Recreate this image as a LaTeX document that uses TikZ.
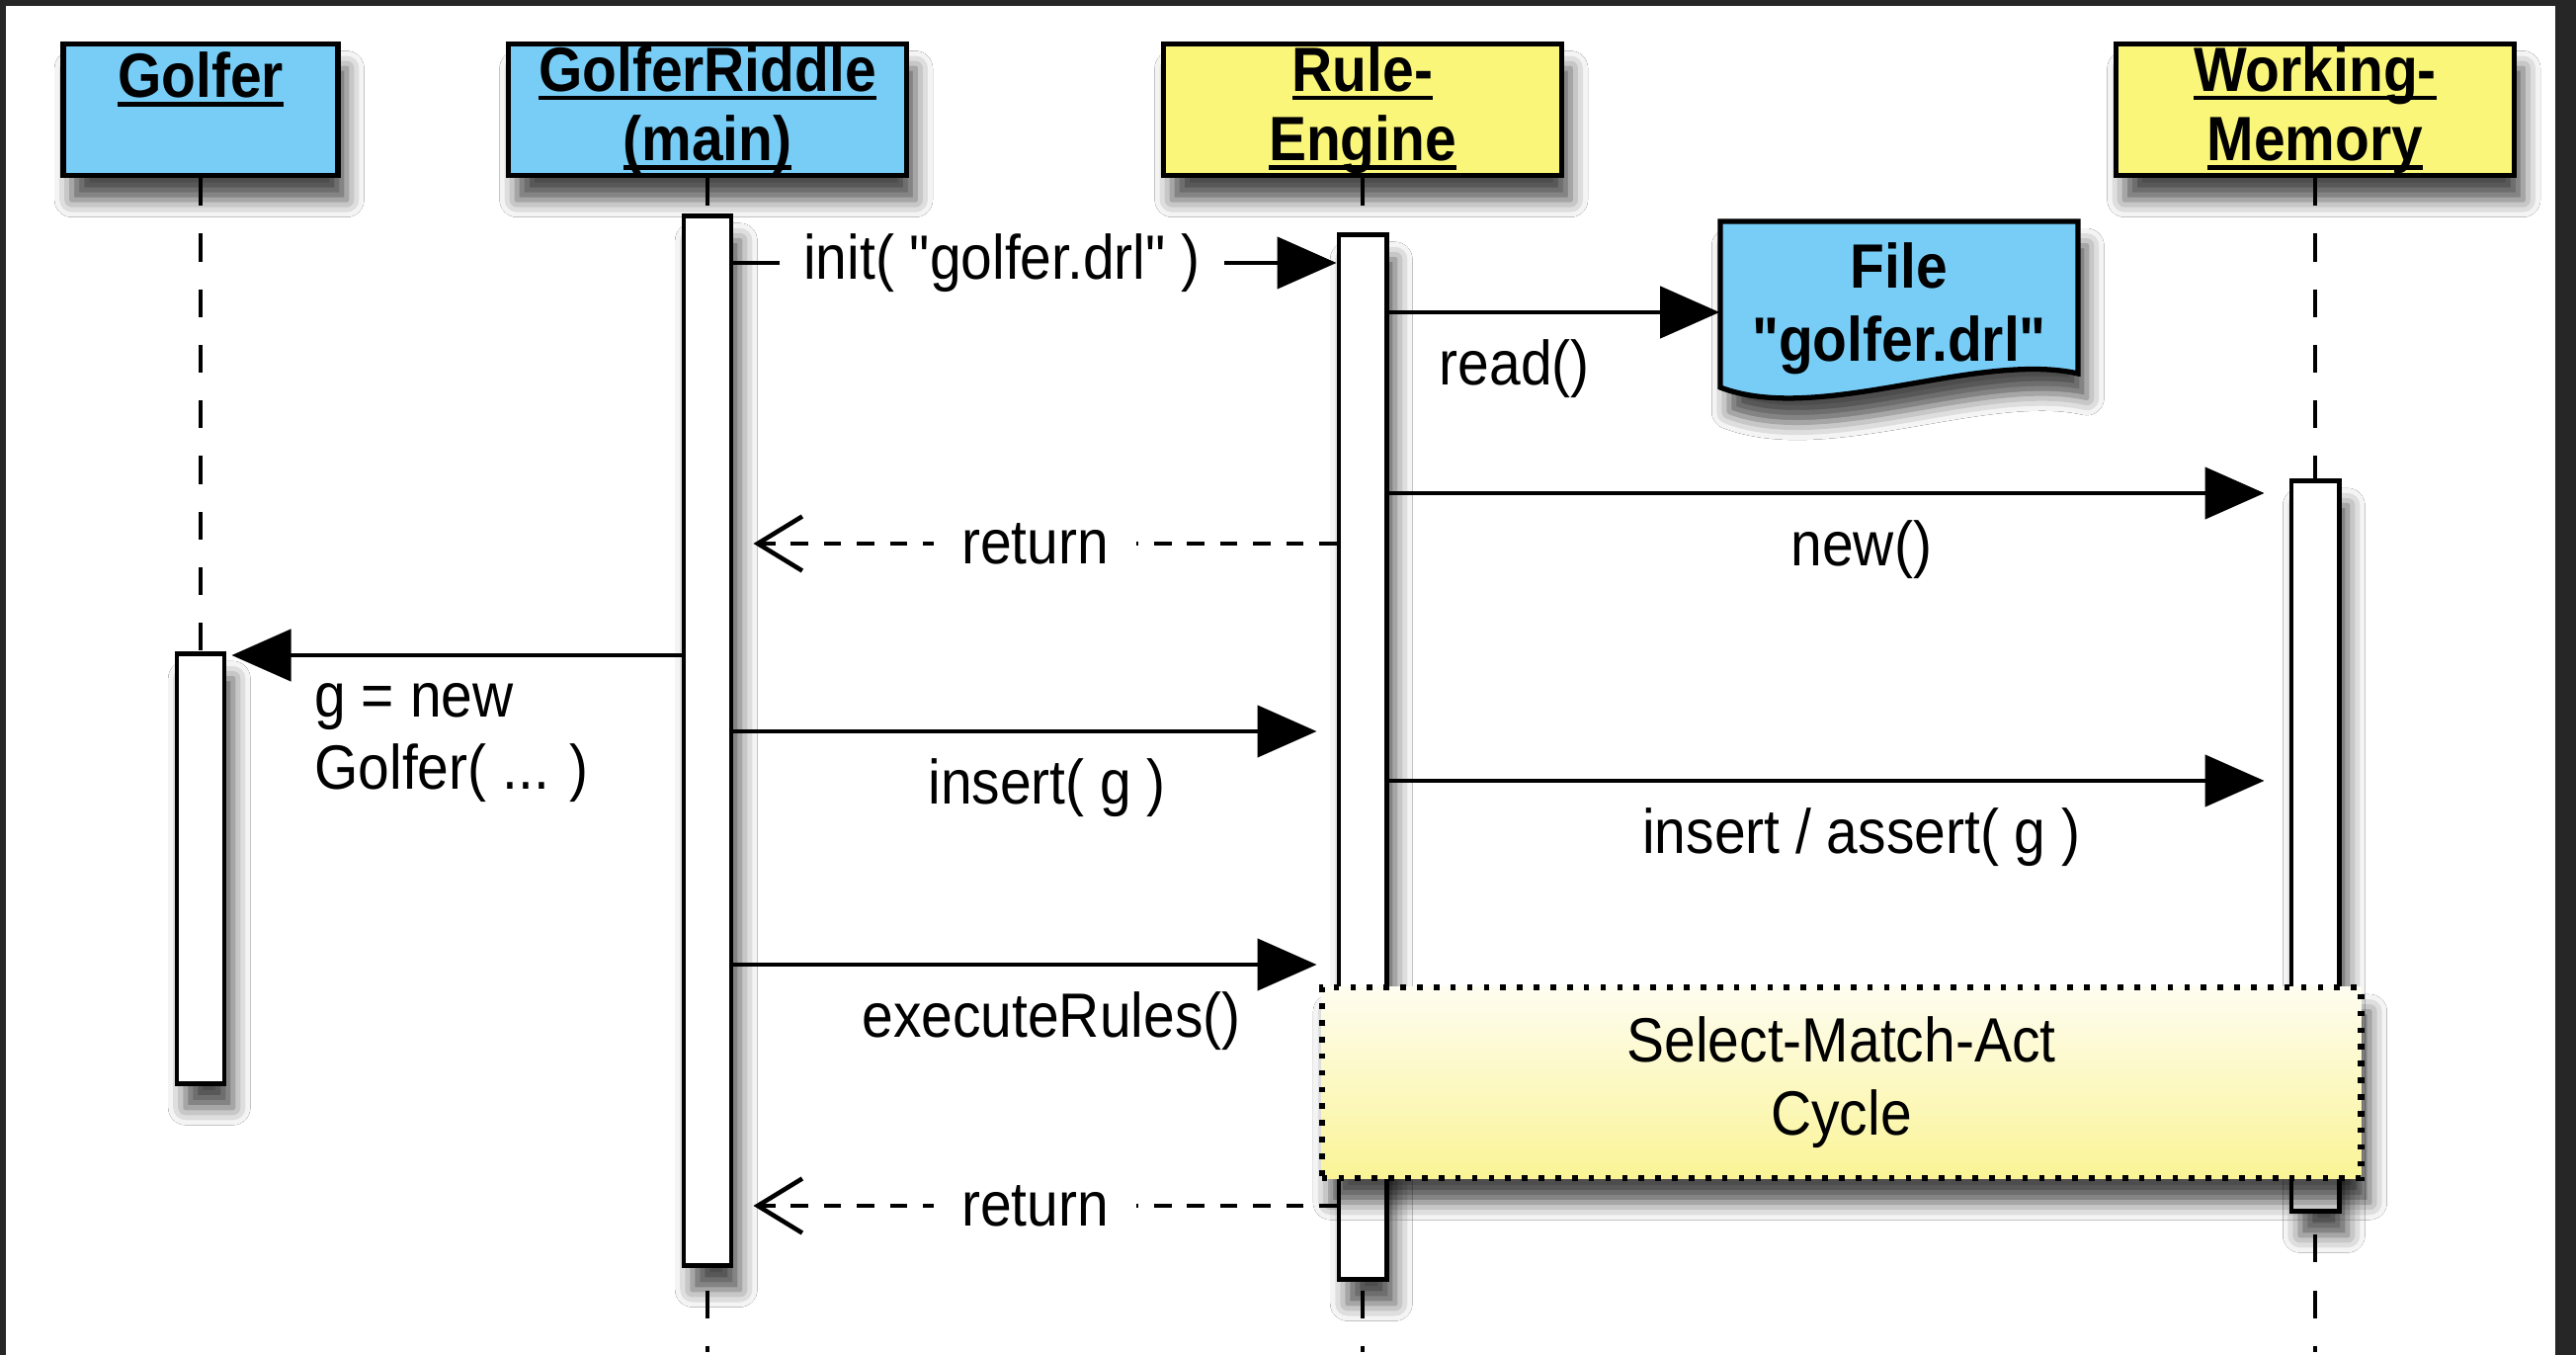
\documentclass[tikz,border=0pt]{standalone}
\usepackage{fontspec}
\setmainfont{Liberation Sans}[FakeStretch=0.9, Ligatures=TeXOff]
\usetikzlibrary{arrows.meta, calc, shadows.blur}

\definecolor{hdrblue}{RGB}{120,205,247}
\definecolor{hdryellow}{RGB}{250,246,122}
\definecolor{cycletop}{RGB}{254,253,240}
\definecolor{cyclebot}{RGB}{250,244,150}

\newcommand{\hdrule}[1]{\setbox0\hbox{#1}\rlap{\rule[-2.6pt]{\wd0}{1.3pt}}\box0}

\begin{document}
\begin{tikzpicture}[
  x=0.01cm, y=-0.01cm,
  font=\fontsize{18}{21}\selectfont,
  drop/.style={blur shadow={shadow xshift=2.5pt, shadow yshift=-7pt, shadow blur radius=5pt, shadow opacity=70}},
  hdr/.style={draw, line width=1.5pt, align=center, minimum width=4.03cm, minimum height=1.33cm,
              inner sep=0pt, font=\fontsize{18}{20}\selectfont\bfseries, drop},
  actor/.style={hdr, fill=hdrblue},
  system/.style={hdr, fill=hdryellow},
  bar/.style={draw, line width=1.4pt, fill=white, minimum width=0.48cm, inner sep=0pt, drop},
  life/.style={dash pattern=on 8pt off 8pt, line width=1pt},
  call/.style={-{Triangle[length=6mm, width=5.2mm, fill=black]}, line width=1.3pt, opacity=1},
  reply/.style={-{Straight Barb[length=4.5mm, width=5.5mm]}, dash pattern=on 5pt off 4.5pt, line width=1.3pt, opacity=1},
  lbl/.style={below, yshift=-4pt},
]
  \useasboundingbox (0,0) rectangle (2607,1371);
  \fill[black!85] (0,0) rectangle (2607,1371);
  \fill[white] (6,6) rectangle (2586,1371);

  % participants
  \node[actor, minimum width=2.78cm] (golfer) at (203,111) {\hdrule{Golfer}\\\phantom{X}};
  \node[actor] (riddle) at (716,111) {\hdrule{GolferRiddle}\\\hdrule{(main)}};
  \node[system] (engine) at (1379,111) {\hdrule{Rule-}\\\hdrule{Engine}};
  \node[system] (memory) at (2343,111) {\hdrule{Working-}\\\hdrule{Memory}};

  % lifelines
  \draw[life] (golfer.south) -- (golfer.south |- 0,662);
  \foreach \p in {riddle, engine, memory}
    \draw[life] (\p.south) -- (\p.south |- 0,1368);

  % activations
  \node[bar, minimum height=4.34cm] (golferbar) at (203,879) {};
  \node[bar, minimum height=10.61cm] (riddlebar) at (716,749.5) {};
  \node[bar, minimum height=10.56cm] (enginebar) at (1379,766) {};
  \node[bar, minimum height=7.38cm] (memorybar) at (2343,856) {};

  % rule file
  \coordinate (filetl) at (1741,224);
  \coordinate (filebr) at (2103,378);
  \path[draw, fill=hdrblue, line width=1.5pt, drop] (filetl) -- (filetl -| filebr) -- (filebr)
    .. controls +(-103,-23) and +(99,38) .. ($(filetl |- filebr)+(0,14)$) -- cycle;
  \node[font=\fontsize{18}{21}\selectfont\bfseries, align=center, minimum width=3.62cm,
        minimum height=1.54cm, inner sep=0pt] (file) at ($(filetl)!0.5!(filebr)+(0,11)$) {File\\"golfer.drl"};

  % messages
  \draw[call] (riddlebar.east |- 0,266) -- node[fill=white, inner xsep=7pt, pos=0.445] {init( "golfer.drl" )} (enginebar.west |- 0,266);
  \draw[call] (enginebar.east |- 0,316) -- node[lbl, pos=0.38] {read()} (file.west |- 0,316);
  \draw[call, shorten >=2.5mm] (enginebar.east |- 0,499) -- node[lbl, pos=0.525] {new()} (memorybar.west |- 0,499);
  \draw[reply, shorten >=2mm] (enginebar.west |- 0,550) -- node[fill=white, inner xsep=8pt] {return} (riddlebar.east |- 0,550);
  \draw[call, shorten >=0.5mm] (riddlebar.west |- 0,663) -- node[below right, yshift=-4pt, pos=0.837, align=left] {g = new\\Golfer( ... )} (golferbar.east |- 0,663);
  \draw[call, shorten >=2mm] (riddlebar.east |- 0,740) -- node[lbl, pos=0.52] {insert( g )} (enginebar.west |- 0,740);
  \draw[call, shorten >=2.5mm] (enginebar.east |- 0,790) -- node[lbl, pos=0.525] {insert / assert( g )} (memorybar.west |- 0,790);
  \draw[call, shorten >=2mm] (riddlebar.east |- 0,976) -- node[lbl, pos=0.527] {executeRules()} (enginebar.west |- 0,976);

  % rule cycle
  \node[fill=white, drop, minimum width=10.51cm, minimum height=1.93cm, align=center,
        postaction={draw, dash pattern=on 1.6pt off 3.2pt, line width=1.8pt, top color=cycletop, bottom color=cyclebot}]
        (sma) at (1863.5,1095.5) {Select-Match-Act\\Cycle};

  \draw[reply, shorten >=2mm] (enginebar.west |- 0,1220) -- node[fill=white, inner xsep=8pt] {return} (riddlebar.east |- 0,1220);
\end{tikzpicture}
\end{document}
